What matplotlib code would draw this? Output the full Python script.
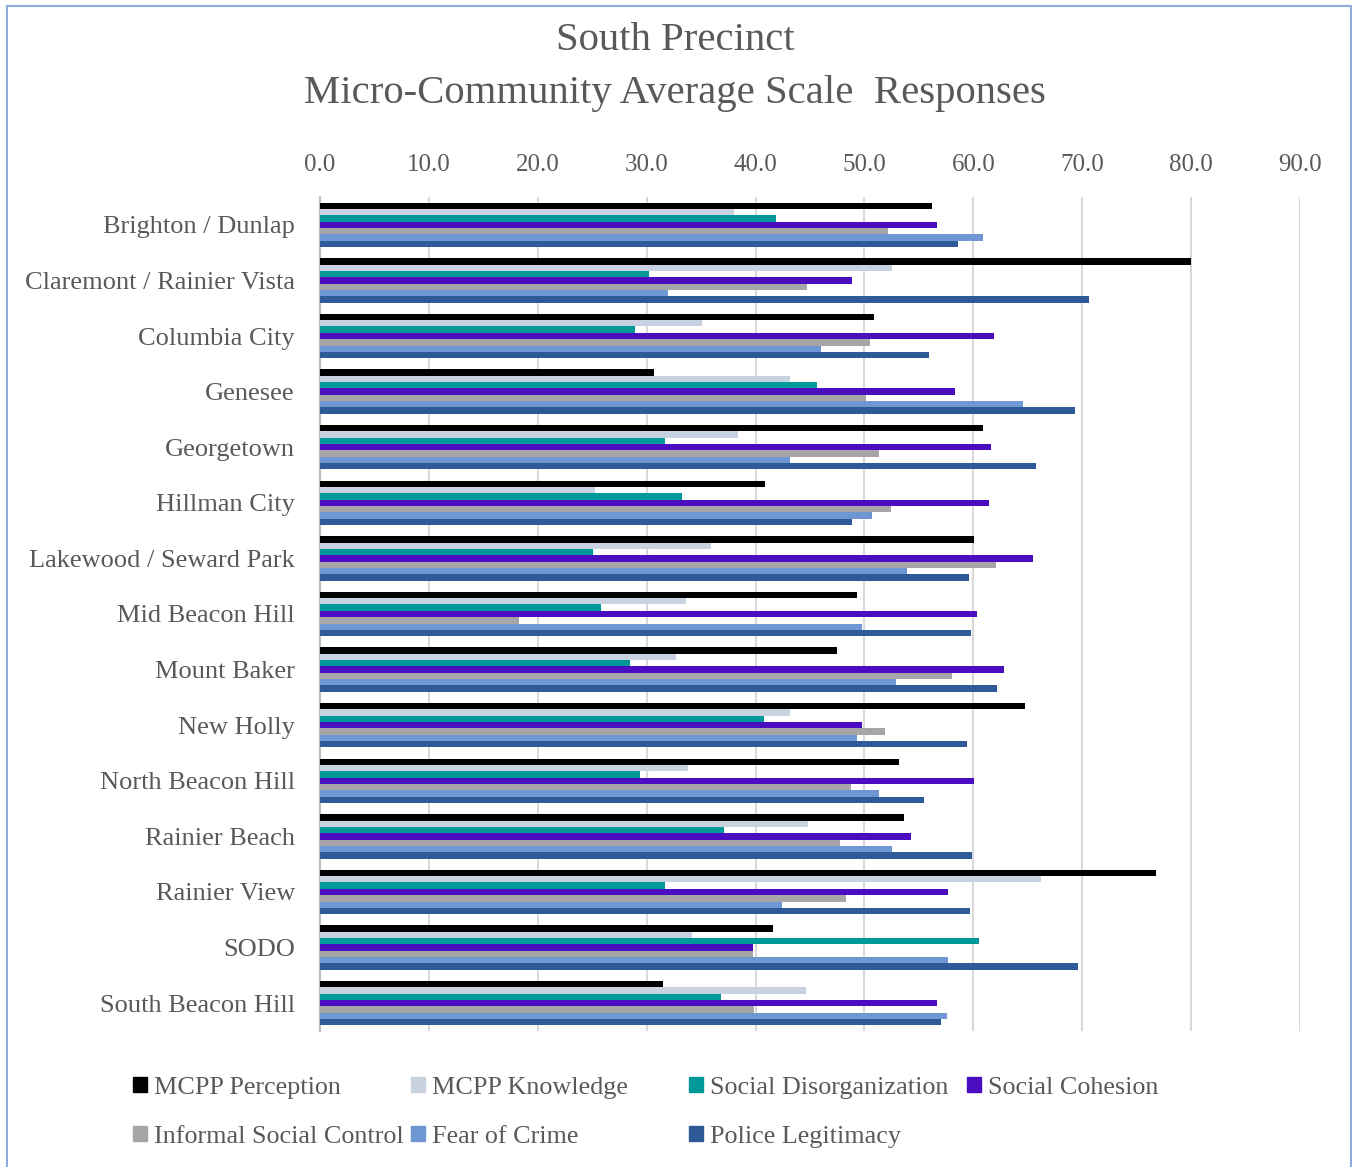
import numpy as np
import matplotlib.pyplot as plt
from matplotlib.patches import Rectangle, Patch

# Dados
bairros = ["Brighton / Dunlap", "Claremont / Rainier Vista", "Columbia City",
           "Genesee", "Georgetown", "Hillman City", "Lakewood / Seward Park",
           "Mid Beacon Hill", "Mount Baker", "New Holly", "North Beacon Hill",
           "Rainier Beach", "Rainier View", "SODO", "South Beacon Hill"]

series = ["MCPP Perception", "MCPP Knowledge", "Social Disorganization",
          "Social Cohesion", "Informal Social Control", "Fear of Crime",
          "Police Legitimacy"]

perception = [56.2, 80.0, 50.9, 30.7, 60.9, 40.9, 60.1, 49.3, 47.5, 64.7, 53.2, 53.6, 76.8, 41.6, 31.5]
knowledge = [38.0, 52.5, 35.1, 43.2, 38.4, 25.3, 35.9, 33.6, 32.7, 43.2, 33.8, 44.8, 66.2, 34.2, 44.6]
disorganization = [41.9, 30.2, 28.9, 45.6, 31.7, 33.2, 25.1, 25.8, 28.5, 40.8, 29.4, 37.1, 31.7, 60.5, 36.8]
cohesion = [56.7, 48.9, 61.9, 58.3, 61.6, 61.4, 65.5, 60.3, 62.8, 49.8, 60.1, 54.3, 57.7, 39.8, 56.7]
informal = [52.2, 44.7, 50.5, 50.1, 51.3, 52.4, 62.1, 18.3, 58.0, 51.9, 48.8, 47.8, 48.3, 39.8, 39.9]
fear = [60.9, 32.0, 46.0, 64.6, 43.2, 50.7, 53.9, 49.8, 52.9, 49.3, 51.3, 52.5, 42.4, 57.7, 57.6]
legitimacy = [58.6, 70.6, 55.9, 69.3, 65.8, 48.9, 59.6, 59.8, 62.2, 59.4, 55.5, 59.9, 59.7, 69.6, 57.0]

valores = [perception, knowledge, disorganization, cohesion, informal, fear, legitimacy]
cores = ["#000000", "#C8D2E0", "#009999", "#4A0DC0", "#A6A6A6", "#6F97D3", "#2E5B98"]

texto = "#595959"
fonte = "Liberation Serif"
plt.rcParams['font.family'] = fonte

fig = plt.figure(figsize=(13.53, 11.67), dpi=100)
ax = fig.add_axes([320 / 1353, 1 - 1031 / 1167, 980 / 1353, 834 / 1167])

y = np.arange(len(bairros))
h = 0.8 / len(series)
for i, (vals, cor) in enumerate(zip(valores, cores)):
    ax.barh(y + (i - 3) * h, vals, height=h, color=cor, label=series[i], zorder=3)

ax.set_xlim(0, 90)
ax.set_ylim(len(bairros) - 0.5, -0.5)
ax.set_xticks(np.arange(0, 91, 10))
ax.xaxis.tick_top()
ax.set_xticklabels([f"{v:.1f}" for v in np.arange(0, 91, 10)])
ax.set_yticks(y)
ax.set_yticklabels(bairros)
ax.tick_params(axis='x', length=0, pad=15, labelsize=18, labelcolor=texto)
ax.tick_params(axis='y', length=0, pad=18, labelsize=19, labelcolor=texto)
ax.grid(axis='x', color="#D9D9D9", linewidth=1.5, zorder=0)
for s in ["top", "right", "bottom"]:
    ax.spines[s].set_visible(False)
ax.spines["left"].set_color("#BFBFBF")
ax.spines["left"].set_linewidth(1.5)

# Título
fig.text(675 / 1353, 1 - 41 / 1167, "South Precinct", ha='center', va='center',
         fontsize=29.3, color=texto)
fig.text(675 / 1353, 1 - 93 / 1167, "Micro-Community Average Scale  Responses",
         ha='center', va='center', fontsize=29.3, color=texto)

# Legenda: uma coluna por vez para ter largura fixa como no Excel
col_x = [133, 411, 689, 967]
for c in range(4):
    idx = [k for k in (c, c + 4) if k < len(series)]
    handles = [Patch(color=cores[k], label=series[k]) for k in idx]
    fig.legend(handles=handles, loc='upper left',
               bbox_to_anchor=(col_x[c] / 1353, 1 - 1077 / 1167),
               frameon=False, fontsize=18.8, labelcolor=texto,
               handlelength=0.53, handleheight=0.53, handletextpad=0.27,
               labelspacing=1.02, borderaxespad=0, borderpad=0)

# Moldura do gráfico
fig.patches.append(Rectangle((7 / 1353, -0.05), 1344 / 1353, 1.05 - 6 / 1167,
                             transform=fig.transFigure, fill=False,
                             edgecolor="#8FAADC", linewidth=1.5))

fig.savefig("out.png", dpi=100)
